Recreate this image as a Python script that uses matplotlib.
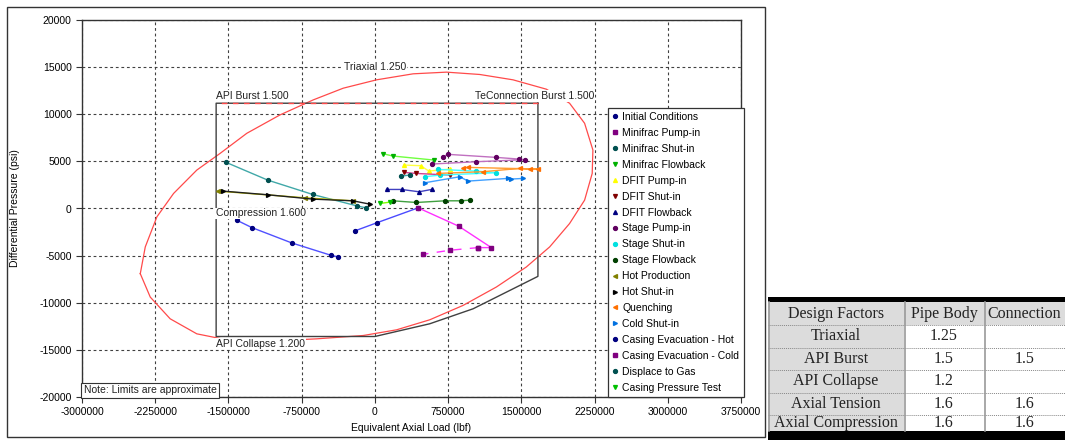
import matplotlib
matplotlib.use("Agg")
import matplotlib.pyplot as plt
from matplotlib.lines import Line2D
from matplotlib.patches import Rectangle

plt.rcParams['font.family'] = ['Liberation Sans', 'DejaVu Sans']

# ---- design envelope ----
tri_x = [-2403e3, -2352e3, -2233e3, -2062e3, -1824e3, -1585e3, -1312e3, -972e3, -631e3, -324e3,
         17e3, 392e3, 733e3, 1074e3, 1415e3, 1756e3, 1994e3, 2148e3, 2233e3, 2226e3,
         2148e3, 1994e3, 1790e3, 1551e3, 1244e3, 903e3, 562e3, 222e3, -119e3, -597e3,
         -1074e3, -1483e3, -1824e3, -2097e3, -2301e3, -2403e3]
tri_y = [-6915, -4078, -887, 1596, 4078, 5851, 7979, 9929, 11525, 12766,
         13652, 14290, 14468, 14220, 13652, 12660, 11170, 9042, 6206, 3723,
         887, -1596, -4078, -6206, -8333, -10283, -11808, -12872, -13475, -13829,
         -14078, -14007, -13298, -11702, -9397, -6915]

api_x = [1670e3, -1626e3, -1626e3, 0, 562e3, 1006e3, 1670e3, 1670e3]
api_y = [11170, 11170, -13580, -13580, -12230, -10640, -7200, 11170]

# ---- load cases ----
series = [
    # name, x, y, marker, marker colour, line colour, line style
    ("Initial Conditions", [-205e3, 17e3, 443e3], [-2376, -1525, 71], 'o', '#000080', '#4a4aff', '-'),
    ("Minifrac Pump-in", [1057e3, 767e3, 494e3], [-4149, -4433, -4858], 's', '#800080', '#ff30ff', (0, (6, 6))),
    ("Minifrac Shut-in", [-1524e3, -1098e3, -637e3, -187e3, -92e3], [4893, 3014, 1489, 284, 71], 'o', '#005050', '#40a8a8', '-'),
    ("Minifrac Flowback", [82e3, 184e3, 603e3], [5815, 5567, 5142], 'v', '#00b000', '#70ff40', '-'),
    ("DFIT Pump-in", [300e3, 470e3, 552e3, 767e3], [4610, 4539, 3972, 4184], '^', '#ffff00', '#ffff40', '-'),
    ("DFIT Shut-in", [297e3, 419e3, 767e3], [3830, 3723, 3546], 'v', '#800000', '#d04090', '-'),
    ("DFIT Flowback", [119e3, 273e3, 453e3, 580e3], [2021, 2021, 1773, 2021], '^', '#000080', '#4040c0', '-'),
    ("Stage Pump-in", [699e3, 750e3, 1237e3, 1473e3, 1534e3, 1040e3, 580e3],
     [5496, 5745, 5425, 5248, 5177, 4964, 4716], 'o', '#600060', '#c070c0', '-'),
    ("Stage Shut-in", [648e3, 1033e3, 1244e3, 665e3, 511e3], [4149, 3972, 3794, 3546, 3369], 'o', '#00e0e0', '#40ffff', '-'),
    ("Stage Flowback", [184e3, 426e3, 716e3, 880e3, 972e3], [816, 638, 816, 816, 887], 'o', '#004000', '#40a040', '-'),
    ("Hot Production", [-1606e3, -716e3, -225e3], [1844, 1135, 816], '<', '#808000', '#c0c000', '-'),
    ("Hot Shut-in", [-1554e3, -1094e3, -634e3, -225e3, -51e3], [1844, 1454, 993, 816, 461], '>', '#000000', '#202020', '-'),
    ("Quenching", [644e3, 1105e3, 1483e3, 1585e3, 1670e3, 951e3, 903e3],
     [3723, 3901, 4255, 4184, 4184, 4362, 4255], '<', '#ff7000', '#ff9a30', '-'),
    ("Cold Shut-in", [511e3, 869e3, 955e3, 1360e3, 1391e3, 1517e3], [2730, 3369, 2908, 3191, 3120, 3191], '>', '#0070e0', '#40a0ff', '-'),
    ("Casing Evacuation - Hot", [-1415e3, -1261e3, -852e3, -450e3, -375e3], [-1241, -2021, -3652, -4964, -5142], 'o', '#000080', '#5050ff', '-'),
    ("Casing Evacuation - Cold", [443e3, 859e3, 1193e3, 1057e3], [71, -1879, -4149, -4149], 's', '#800080', '#ff30ff', '-'),
    ("Displace to Gas", [266e3, 358e3], [3440, 3546], 'o', '#005050', '#40a8a8', '-'),
    ("Casing Pressure Test", [51e3, 153e3], [532, 674], 'v', '#00c000', '#80ff00', '-'),
]

xticks = [-3000000, -2250000, -1500000, -750000, 0, 750000, 1500000, 2250000, 3000000, 3750000]
yticks = [-20000, -15000, -10000, -5000, 0, 5000, 10000, 15000, 20000]

factors = ["Triaxial", "API Burst", "API Collapse", "Axial Tension", "Axial Compression"]
pipe_body = ["1.25", "1.5", "1.2", "1.6", "1.6"]
connection = ["", "1.5", "", "1.6", "1.6"]

fig = plt.figure(figsize=(10.65, 4.4), dpi=100)

# outer frame of the chart panel
W, H = 1065.0, 440.0
fig.patches.append(Rectangle((7 / W, 1 - 437 / H), 758 / W, 430 / H, transform=fig.transFigure,
                             fill=False, edgecolor='#333333', linewidth=1))

ax = fig.add_axes([82 / W, 1 - 397 / H, 659 / W, 377 / H])
ax.set_xlim(-3000000, 3750000)
ax.set_ylim(-20000, 20000)
ax.set_xticks(xticks)
ax.set_yticks(yticks)
ax.set_xticklabels([str(t) for t in xticks])
ax.set_yticklabels([str(t) for t in yticks])
ax.tick_params(labelsize=7.5, length=4, direction='out', color='#333333')
ax.grid(True, color='#404040', linestyle=(0, (2.5, 2.5)), linewidth=0.8)
for s in ax.spines.values():
    s.set_color('#333333')
    s.set_linewidth(1)
ax.set_xlabel('Equivalent Axial Load (lbf)', fontsize=7.5)
ax.set_ylabel('Differential Pressure (psi)', fontsize=7.5)
ax.yaxis.set_label_coords(-(82 - 20) / 659, 0.5)

# envelopes
ax.plot(tri_x, tri_y, color='#ff4a4a', linewidth=0.9, zorder=3)
ax.plot(api_x, api_y, color='#404040', linewidth=1, zorder=3)
ax.plot(api_x[:2], api_y[:2], color='#ff4a4a', linewidth=1, linestyle=(0, (4, 4)), zorder=3)

lbl = dict(fontsize=7.5, color='#222222', zorder=5,
           bbox=dict(facecolor='white', edgecolor='none', pad=0.6))
ax.text(0, 15000, 'Triaxial 1.250', ha='center', va='center', **lbl)
ax.text(-1626e3, 11400, 'API Burst 1.500', ha='left', va='bottom', **lbl)
ax.text(2250e3, 11400, 'TeConnection Burst 1.500', ha='right', va='bottom', **lbl)
ax.text(-1626e3, -530, 'Compression 1.600', ha='left', va='center', **lbl)
ax.text(-1626e3, -13800, 'API Collapse 1.200', ha='left', va='top', **lbl)

handles = []
for name, xs, ys, mk, mc, lc, ls in series:
    ax.plot(xs, ys, color=lc, linewidth=1.0, linestyle=ls, zorder=4)
    ax.plot(xs, ys, linestyle='none', marker=mk, markersize=2.8, markerfacecolor=mc,
            markeredgecolor=mc, zorder=4)
    handles.append(Line2D([], [], linestyle='none', marker=mk, markersize=2.8,
                          markerfacecolor=mc, markeredgecolor=mc, label=name))

leg = ax.legend(handles=handles, loc='lower right', bbox_to_anchor=(1.004, 0.0),
                fontsize=7.5, frameon=True, fancybox=False, framealpha=1,
                edgecolor='#333333', borderaxespad=0, labelspacing=0.57,
                handlelength=0.6, handletextpad=0.4, borderpad=0.4)
leg.get_frame().set_linewidth(0.9)
leg.set_zorder(6)

ax.text(0.003, 0.004, 'Note: Limits are approximate', transform=ax.transAxes, fontsize=7.5,
        ha='left', va='bottom', zorder=6, color='#222222',
        bbox=dict(facecolor='white', edgecolor='#333333', boxstyle='square,pad=0.25', linewidth=0.8))

# ---- design factor table ----
tx = fig.add_axes([768 / W, 0, 297 / W, 143 / H])
tx.set_xlim(0, 297)
tx.set_ylim(143, 0)
tx.axis('off')
col_x = [0, 136, 216, 297]
row_y = [5, 28, 50.5, 73, 95.5, 118, 134]
tx.add_patch(Rectangle((0, 0), 297, 5, facecolor='black', edgecolor='none'))
tx.add_patch(Rectangle((0, 134), 297, 9, facecolor='black', edgecolor='none'))
tx.add_patch(Rectangle((0, row_y[0]), 297, row_y[1] - row_y[0], facecolor='#dcdcdc', edgecolor='none'))
tx.add_patch(Rectangle((0, row_y[1]), col_x[1], row_y[-1] - row_y[1], facecolor='#dcdcdc', edgecolor='none'))
for yy in row_y[1:-1]:
    tx.plot([0, 297], [yy, yy], color='#888888', linewidth=0.7, linestyle=(0, (1, 1)))
for xx in col_x[:-1]:
    tx.plot([xx + 0.5, xx + 0.5], [row_y[0], row_y[-1]], color='#999999', linewidth=1.2)
tfont = dict(family=['Liberation Serif', 'DejaVu Serif'], fontsize=11.5, color='#222222',
             ha='center', va='center')
header = ["Design Factors", "Pipe Body", "Connection"]
for j, h in enumerate(header):
    tx.text((col_x[j] + col_x[j + 1]) / 2, (row_y[0] + row_y[1]) / 2, h, **tfont)
for i in range(len(factors)):
    yc = (row_y[i + 1] + row_y[i + 2]) / 2
    for j, v in enumerate([factors[i], pipe_body[i], connection[i]]):
        tx.text((col_x[j] + col_x[j + 1]) / 2, yc, v, **tfont)

fig.savefig('out.png', dpi=100)
